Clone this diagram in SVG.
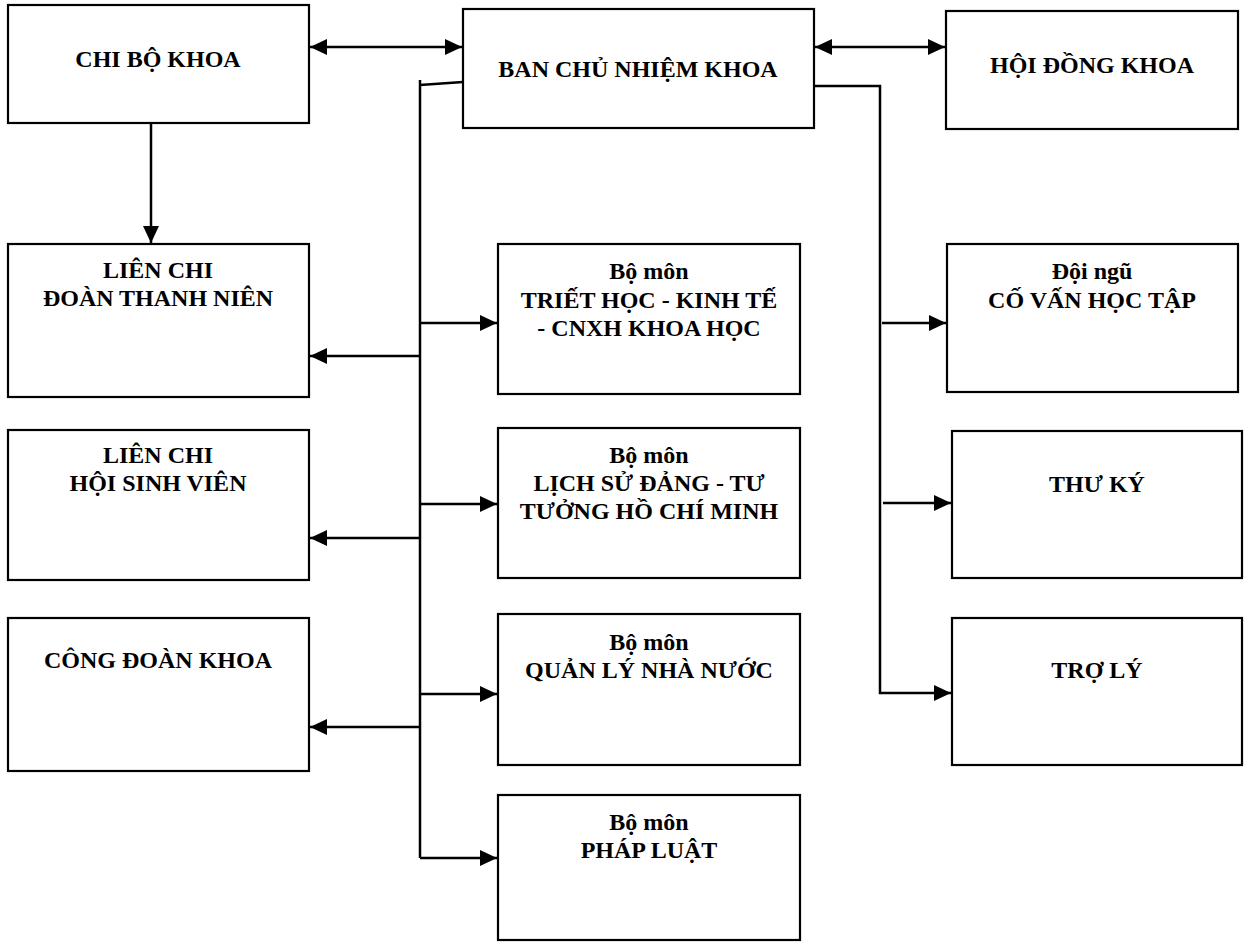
<svg xmlns="http://www.w3.org/2000/svg" width="1244" height="944" viewBox="0 0 1244 944">
<style>
.box{fill:#fff;stroke:#000;stroke-width:2.2}
.t{font-family:"Liberation Serif","Times New Roman",serif;font-weight:bold;font-size:24px;fill:#000;text-anchor:middle}
.c{fill:none;stroke:#000;stroke-width:2.5}
.a{marker-end:url(#ah)}
.d{marker-start:url(#ahs);marker-end:url(#ah)}
</style>
<defs>
<marker id="ah" markerUnits="userSpaceOnUse" markerWidth="18" markerHeight="16" refX="17" refY="8" orient="auto"><path d="M0,0 L17,8 L0,16 z" fill="#000"/></marker>
<marker id="ahs" markerUnits="userSpaceOnUse" markerWidth="18" markerHeight="16" refX="0" refY="8" orient="auto"><path d="M17,0 L0,8 L17,16 z" fill="#000"/></marker>
</defs>
<rect width="1244" height="944" fill="#fff"/>
<g id="connectors">
<line class="c d" x1="310" y1="47" x2="462" y2="47"/>
<line class="c d" x1="815" y1="47" x2="945" y2="47"/>
<line class="c a" x1="151" y1="124" x2="151" y2="243"/>
<line class="c" x1="420" y1="80" x2="420" y2="858"/>
<line class="c" x1="420" y1="85" x2="463" y2="82"/>
<line class="c a" x1="420" y1="356" x2="310" y2="356"/>
<line class="c a" x1="420" y1="538" x2="310" y2="538"/>
<line class="c a" x1="420" y1="727" x2="310" y2="727"/>
<line class="c a" x1="420" y1="323" x2="497" y2="323"/>
<line class="c a" x1="420" y1="504" x2="497" y2="504"/>
<line class="c a" x1="420" y1="694" x2="497" y2="694"/>
<polyline class="c a" points="420,858 497,858"/>
<polyline class="c a" points="814,86 880,86 880,693 951,693"/>
<line class="c a" x1="882" y1="323" x2="946" y2="323"/>
<line class="c a" x1="883" y1="503" x2="951" y2="503"/>
</g>
<g id="chi-bo-khoa"><rect class="box" x="8" y="5" width="301" height="118"/><text class="t" x="158" y="67">CHI BỘ KHOA</text></g>
<g id="ban-chu-nhiem-khoa"><rect class="box" x="463" y="9" width="351" height="119"/><text class="t" x="638" y="77">BAN CHỦ NHIỆM KHOA</text></g>
<g id="hoi-dong-khoa"><rect class="box" x="946" y="11" width="292" height="118"/><text class="t" x="1092" y="73">HỘI ĐỒNG KHOA</text></g>
<g id="lien-chi-doan"><rect class="box" x="8" y="244" width="301" height="153"/><text class="t" x="158" y="278">LIÊN CHI</text><text class="t" x="158" y="306">ĐOÀN THANH NIÊN</text></g>
<g id="lien-chi-hoi"><rect class="box" x="8" y="430" width="301" height="150"/><text class="t" x="158" y="463">LIÊN CHI</text><text class="t" x="158" y="491">HỘI SINH VIÊN</text></g>
<g id="cong-doan-khoa"><rect class="box" x="8" y="618" width="301" height="153"/><text class="t" x="158" y="668">CÔNG ĐOÀN KHOA</text></g>
<g id="bm-triet-hoc"><rect class="box" x="498" y="244" width="302" height="150"/><text class="t" x="649" y="279">Bộ môn</text><text class="t" x="649" y="308">TRIẾT HỌC - KINH TẾ</text><text class="t" x="649" y="336">- CNXH KHOA HỌC</text></g>
<g id="bm-lich-su"><rect class="box" x="498" y="428" width="302" height="150"/><text class="t" x="649" y="463">Bộ môn</text><text class="t" x="649" y="491">LỊCH SỬ ĐẢNG - TƯ</text><text class="t" x="649" y="519">TƯỞNG HỒ CHÍ MINH</text></g>
<g id="bm-quan-ly"><rect class="box" x="498" y="614" width="302" height="151"/><text class="t" x="649" y="650">Bộ môn</text><text class="t" x="649" y="678">QUẢN LÝ NHÀ NƯỚC</text></g>
<g id="bm-phap-luat"><rect class="box" x="498" y="795" width="302" height="145"/><text class="t" x="649" y="830">Bộ môn</text><text class="t" x="649" y="858">PHÁP LUẬT</text></g>
<g id="doi-ngu"><rect class="box" x="947" y="244" width="291" height="148"/><text class="t" x="1092" y="279">Đội ngũ</text><text class="t" x="1092" y="308">CỐ VẤN HỌC TẬP</text></g>
<g id="thu-ky"><rect class="box" x="952" y="431" width="290" height="147"/><text class="t" x="1097" y="492">THƯ KÝ</text></g>
<g id="tro-ly"><rect class="box" x="952" y="618" width="290" height="147"/><text class="t" x="1097" y="678">TRỢ LÝ</text></g>
</svg>
